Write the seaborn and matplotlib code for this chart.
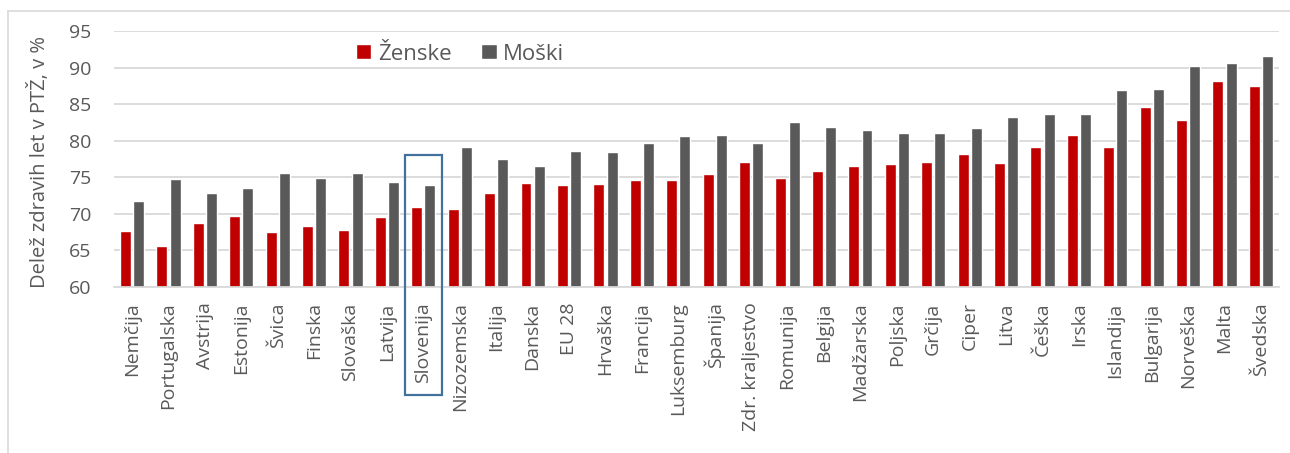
import numpy as np
import pandas as pd
import seaborn as sns
import matplotlib.pyplot as plt
from matplotlib.patches import Rectangle
from matplotlib.lines import Line2D

# data
drzave = ["Nemčija", "Portugalska", "Avstrija", "Estonija", "Švica", "Finska",
          "Slovaška", "Latvija", "Slovenija", "Nizozemska", "Italija", "Danska",
          "EU 28", "Hrvaška", "Francija", "Luksemburg", "Španija", "Zdr. kraljestvo",
          "Romunija", "Belgija", "Madžarska", "Poljska", "Grčija", "Ciper", "Litva",
          "Češka", "Irska", "Islandija", "Bulgarija", "Norveška", "Malta", "Švedska"]
zenske = [67.6, 65.6, 68.8, 69.7, 67.5, 68.4, 67.8, 69.6, 70.9, 70.7, 72.8, 74.2,
          73.9, 74.1, 74.6, 74.6, 75.4, 77.1, 74.9, 75.9, 76.5, 76.8, 77.1, 78.2,
          77.0, 79.2, 80.8, 79.2, 84.6, 82.9, 88.2, 87.5]
moski = [71.7, 74.7, 72.9, 73.5, 75.6, 74.9, 75.6, 74.4, 73.9, 79.2, 77.5, 76.6,
         78.6, 78.4, 79.7, 80.7, 80.8, 79.7, 82.5, 81.9, 81.4, 81.1, 81.1, 81.8,
         83.3, 83.6, 83.7, 87.0, 87.1, 90.2, 90.6, 91.6]
spol = ["Ženske", "Moški"]
barve = ["#C00000", "#595959"]

df = pd.DataFrame({
    "drzava": drzave * 2,
    "spol": [spol[0]] * len(drzave) + [spol[1]] * len(drzave),
    "vrednost": zenske + moski,
})

sns.set_style("white")
plt.rcParams["font.family"] = ["Open Sans", "DejaVu Sans"]
txt = "#595959"
grid = "#D9D9D9"

fig = plt.figure(figsize=(12.9, 4.53), dpi=100)
ax = fig.add_axes([113.8 / 1290, 1 - 287 / 453, (1279.2 - 113.8) / 1290, 256 / 453])

sns.barplot(data=df, x="drzava", y="vrednost", hue="spol", order=drzave,
            hue_order=spol, palette=barve, width=0.725, gap=0.17,
            saturation=1, ax=ax, legend=True)

ax.set_ylim(60, 95)
ax.set_yticks(range(60, 96, 5))
ax.set_xlim(-0.5, len(drzave) - 0.5)
ax.yaxis.grid(True, color=grid, linewidth=1.3)
ax.set_axisbelow(True)
for s in ["top", "right", "left"]:
    ax.spines[s].set_visible(False)
ax.spines["bottom"].set_color(grid)
ax.spines["bottom"].set_linewidth(1.3)
ax.tick_params(axis="y", length=0, pad=16, labelsize=14, labelcolor=txt)
ax.tick_params(axis="x", length=0, pad=11, labelsize=14, labelcolor=txt)
plt.setp(ax.get_xticklabels(), rotation=90, ha="center", va="top")
ax.set_xlabel("")
ax.set_ylabel("")
fig.text(39 / 1290, 1 - 162 / 453, "Delež zdravih let v PTŽ, v %", rotation=90,
         ha="center", va="center", fontsize=14.5, color=txt)

ax.legend(loc="center left", bbox_to_anchor=(336 / 1290, 1 - 54 / 453),
          bbox_transform=fig.transFigure, ncol=2, frameon=False,
          fontsize=16, labelcolor=txt, handlelength=0.68, handleheight=0.68,
          handletextpad=0.3, columnspacing=1.35)

# okvir okoli Slovenije
i = drzave.index("Slovenija")
x0 = ax.transData.transform((i - 0.51, 78))
x1 = ax.transData.transform((i + 0.51, 78))
inv = fig.transFigure.inverted()
p0 = inv.transform(x0)
p1 = inv.transform(x1)
y_bot = 1 - 395 / 453
fig.patches.append(Rectangle((p0[0], y_bot), p1[0] - p0[0], p0[1] - y_bot,
                             transform=fig.transFigure, fill=False,
                             edgecolor="#41719C", linewidth=1.6))

# okvir grafa
fig.lines.append(Line2D([8 / 1290, 8 / 1290], [0, 1 - 10.5 / 453],
                        transform=fig.transFigure, color=grid, linewidth=1.2))
fig.lines.append(Line2D([8 / 1290, 1], [1 - 10.5 / 453, 1 - 10.5 / 453],
                        transform=fig.transFigure, color=grid, linewidth=1.2))

fig.savefig("out.png", dpi=100)
